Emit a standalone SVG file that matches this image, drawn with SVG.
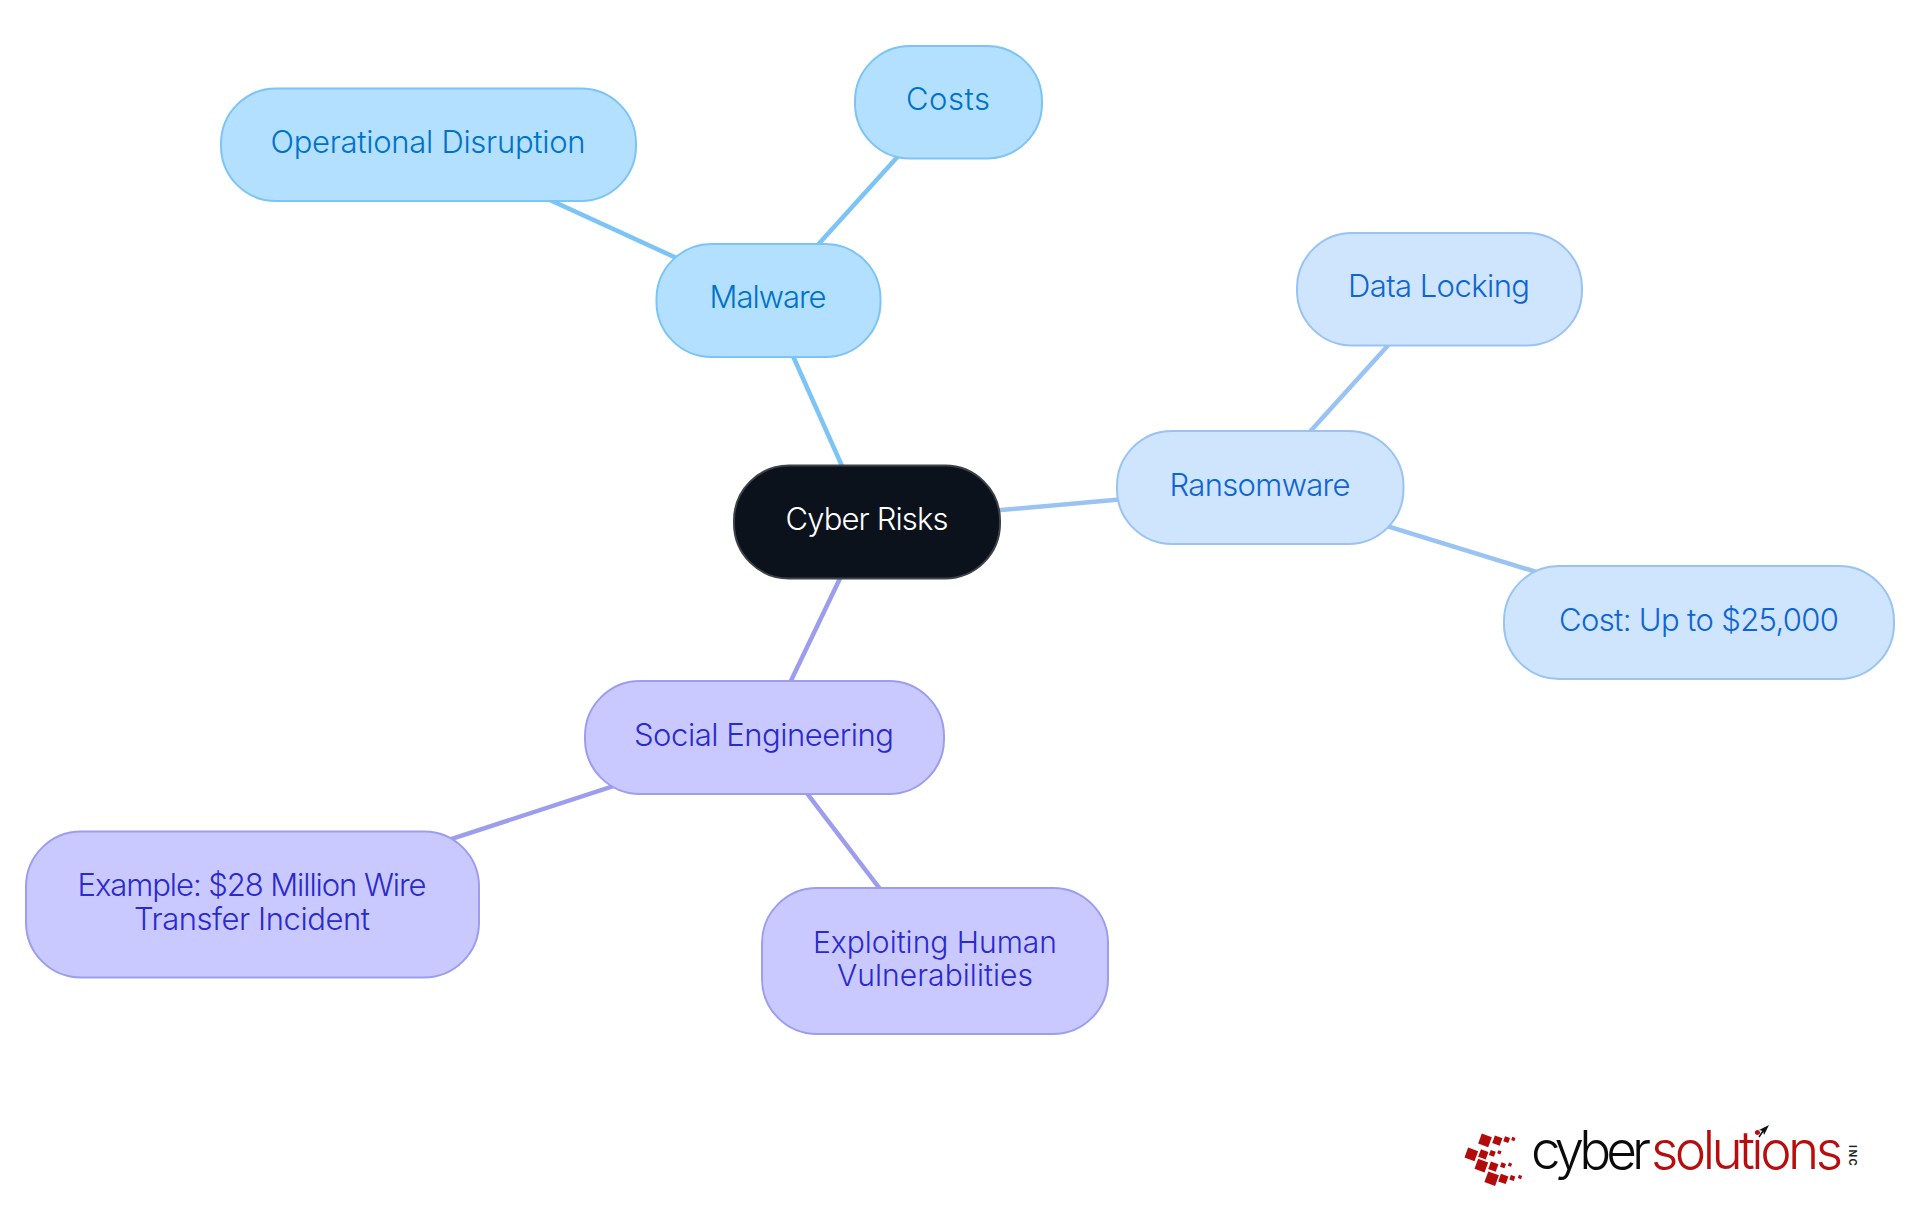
<svg xmlns="http://www.w3.org/2000/svg" width="1920" height="1215" viewBox="0 0 1920 1215">
<style>
text{font-family:"Inter","Noto Sans","Liberation Sans",sans-serif;font-size:31px;text-anchor:middle;font-weight:300}
.n{stroke-width:2}
.root rect{fill:#0b121b;stroke:#3d4248}.root text{fill:#fff}
.a rect{fill:#b3e0ff;stroke:#7cc4f5}.a text{fill:#0072c6}
.b rect{fill:#cfe4fd;stroke:#99c3f2}.b text{fill:#0d66d0}
.c rect{fill:#c9c9ff;stroke:#9d9df0}.c text{fill:#2a2acc}
#exploiting text{font-size:30px}
#connectors line{stroke-width:4.5;fill:none}
.la{stroke:#7cc4f5}.lb{stroke:#99c3f2}.lc{stroke:#9d9df0}
.logo text{text-anchor:start;font-size:53px;font-weight:300}
.logo .sq{fill:#b30a0a}
</style>
<rect width="1920" height="1215" fill="#fff"/>
<g id="connectors">
<line class="la" x1="867" y1="522" x2="768" y2="300"/>
<line class="la" x1="768" y1="300" x2="948" y2="101"/>
<line class="la" x1="768" y1="300" x2="428" y2="144"/>
<line class="lb" x1="867" y1="522" x2="1260" y2="487"/>
<line class="lb" x1="1260" y1="487" x2="1439" y2="289"/>
<line class="lb" x1="1260" y1="487" x2="1699" y2="622"/>
<line class="lc" x1="867" y1="522" x2="764" y2="737"/>
<line class="lc" x1="764" y1="737" x2="252" y2="904"/>
<line class="lc" x1="764" y1="737" x2="935" y2="961"/>
</g>
<g id="cyber-risks" class="root"><rect class="n" x="734" y="465.500" width="266" height="113" rx="55"/><text x="867" y="530" textLength="163">Cyber Risks</text></g>
<g id="malware" class="a"><rect class="n" x="656.500" y="244" width="224" height="113" rx="55"/><text x="768" y="308" textLength="117">Malware</text></g>
<g id="costs" class="a"><rect class="n" x="855" y="46" width="187" height="112.500" rx="55"/><text x="948" y="110" textLength="84">Costs</text></g>
<g id="operational-disruption" class="a"><rect class="n" x="221" y="88.500" width="415" height="112.500" rx="55"/><text x="428" y="153" textLength="315">Operational Disruption</text></g>
<g id="ransomware" class="b"><rect class="n" x="1117" y="431" width="286.500" height="113" rx="55"/><text x="1260" y="496" textLength="181">Ransomware</text></g>
<g id="data-locking" class="b"><rect class="n" x="1297" y="233" width="285" height="112.500" rx="55"/><text x="1439" y="297" textLength="182">Data Locking</text></g>
<g id="cost-25000" class="b"><rect class="n" x="1504" y="566" width="390" height="113" rx="55"/><text x="1699" y="631" textLength="280">Cost: Up to $25,000</text></g>
<g id="social-engineering" class="c"><rect class="n" x="585" y="681" width="359" height="113" rx="55"/><text x="764" y="746" textLength="260">Social Engineering</text></g>
<g id="example" class="c"><rect class="n" x="26" y="831.500" width="453" height="146" rx="55"/><text x="252" y="896" textLength="349">Example: $28 Million Wire</text><text x="252" y="930" textLength="236">Transfer Incident</text></g>
<g id="exploiting" class="c"><rect class="n" x="762" y="888" width="346" height="146" rx="55"/><text x="935" y="953" textLength="244">Exploiting Human</text><text x="935" y="986" textLength="196">Vulnerabilities</text></g>
<g id="logo" class="logo">
<g class="sq" transform="translate(1440 1105) scale(.3333)">
<rect x="119" y="90" width="32" height="32" transform="rotate(20 135 106)"/><rect x="160" y="95" width="24" height="24" transform="rotate(20 172 107)"/><rect x="192" y="96" width="16" height="16" transform="rotate(20 200 104)"/><rect x="215" y="97" width="10" height="10" transform="rotate(20 220 102)"/>
<rect x="78" y="132" width="32" height="32" transform="rotate(20 94 148)"/><rect x="118" y="136" width="24" height="24" transform="rotate(20 130 148)"/><rect x="149" y="137" width="16" height="16" transform="rotate(20 157 145)"/><rect x="173" y="137" width="10" height="10" transform="rotate(20 178 142)"/>
<rect x="108" y="166" width="32" height="32" transform="rotate(20 124 182)"/><rect x="148" y="173" width="24" height="24" transform="rotate(20 160 185)"/><rect x="182" y="174" width="14" height="14" transform="rotate(20 189 181)"/><rect x="205" y="174" width="10" height="10" transform="rotate(20 210 179)"/>
<rect x="138" y="204" width="34" height="34" transform="rotate(20 155 221)"/><rect x="178" y="210" width="24" height="24" transform="rotate(20 190 222)"/><rect x="210" y="212" width="14" height="14" transform="rotate(20 217 219)"/><rect x="235" y="211" width="10" height="10" transform="rotate(20 240 216)"/>
</g>
<text x="1531" y="1169" fill="#0a0a0a" textLength="120">cyber</text>
<text x="1651" y="1169" fill="#b80d0d" textLength="192">solutions</text>
<text transform="translate(1849 1145) rotate(90)" fill="#222" style="font-size:10px;font-weight:700" textLength="21">INC</text>
<path d="M1759 1137L1765 1128" stroke="#111" stroke-width="1.500" fill="none"/>
<path d="M1769 1125L1759 1130L1763 1131L1764 1135Z" fill="#111"/>
</g>
</svg>
